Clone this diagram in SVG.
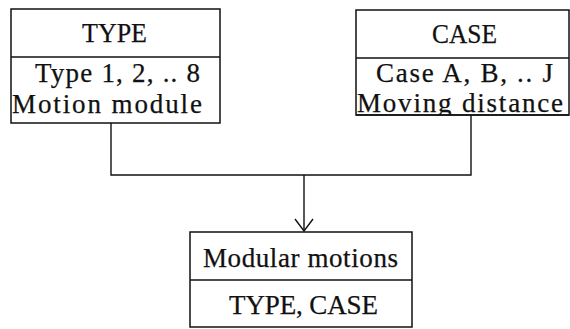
<svg xmlns="http://www.w3.org/2000/svg" width="570" height="329" viewBox="0 0 570 329">
  <style>
    .box { fill: #ffffff; stroke: #111111; stroke-width: 1.5; }
    .div { stroke: #111111; stroke-width: 1.5; }
    .lbl { font-family: "Liberation Serif", "Times New Roman", serif; font-size: 27px; fill: #111111; stroke: #111111; stroke-width: 0.25; }
    .wire { fill: none; stroke: #111111; stroke-width: 1.4; }
  </style>
  <defs>
    <marker id="open-arrow" viewBox="0 0 14 20" refX="13" refY="10" markerWidth="14" markerHeight="20" markerUnits="userSpaceOnUse" orient="auto">
      <path d="M1,1 L13,10 L1,19" fill="none" stroke="#111111" stroke-width="1.4"/>
    </marker>
    <clipPath id="case-clip">
      <rect x="356" y="10" width="213" height="105"/>
    </clipPath>
  </defs>
  <rect width="570" height="329" fill="#ffffff"/>

  <!-- connectors -->
  <g id="connectors">
    <path class="wire" d="M111,123 V175 H471 V115"/>
    <path class="wire" d="M304,175 V231" marker-end="url(#open-arrow)"/>
  </g>

  <!-- TYPE block -->
  <g id="type">
    <rect class="box" x="11" y="9" width="209" height="114"/>
    <line class="div" x1="11" y1="57" x2="220" y2="57"/>
    <text class="lbl" x="82" y="42" textLength="65" lengthAdjust="spacingAndGlyphs">TYPE</text>
    <text class="lbl" x="35" y="82" textLength="165" lengthAdjust="spacing">Type 1, 2, .. 8</text>
    <text class="lbl" x="12" y="113" textLength="190" lengthAdjust="spacing">Motion module</text>
  </g>

  <!-- CASE block -->
  <g id="case">
    <rect class="box" x="356" y="10" width="213" height="105"/>
    <line class="div" x1="356" y1="58" x2="569" y2="58"/>
    <text class="lbl" x="432" y="43" textLength="65" lengthAdjust="spacingAndGlyphs">CASE</text>
    <text class="lbl" x="376" y="82" textLength="177" lengthAdjust="spacing">Case A, B, .. J</text>
    <text class="lbl" x="357" y="112" textLength="206" lengthAdjust="spacing" clip-path="url(#case-clip)">Moving distance</text>
    <line class="div" x1="356" y1="115" x2="569" y2="115"/>
  </g>

  <!-- Modular motions block -->
  <g id="modular">
    <rect class="box" x="190" y="232" width="222" height="95"/>
    <line class="div" x1="190" y1="280" x2="412" y2="280"/>
    <text class="lbl" x="203" y="267" textLength="195" lengthAdjust="spacing">Modular motions</text>
    <text class="lbl" x="229" y="314" textLength="149" lengthAdjust="spacing">TYPE, CASE</text>
  </g>
</svg>
